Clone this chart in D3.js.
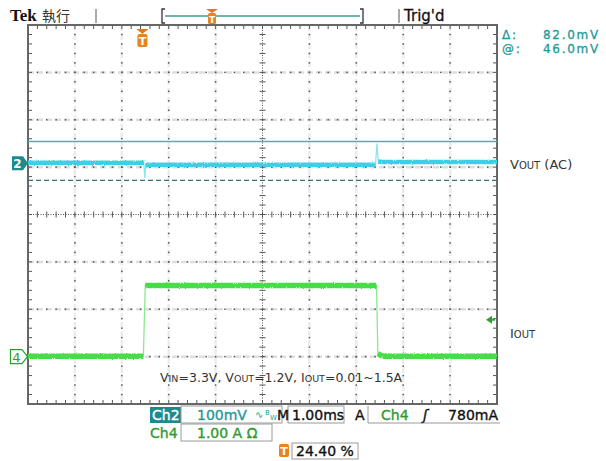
<!DOCTYPE html>
<html>
<head>
<meta charset="utf-8">
<script src="https://cdn.jsdelivr.net/npm/d3@7"></script>
<style>
  html, body { margin: 0; padding: 0; background: #fff; }
  svg text { font-family: "DejaVu Sans", sans-serif; }
</style>
</head>
<body>
<div id="scope"></div>
<script>
// time axis: ms relative to trigger, screen spans 10 div at 1.00ms/div
var timeSpan = [-2.44, 7.56];
var divsX = d3.range(0, 11);   // vertical graticule lines
var divsY = d3.range(-4, 5);   // horizontal graticule lines

// Ch2: Vout (AC), mV relative to ch2 ground marker
var ch2Time = [-2.44, 0.03, 0.05, 0.07, 0.12, 4.97, 5.00, 5.03, 5.10, 7.56];
var ch2Volt = [1, 1, -31, -4, -3, -3, 42, 4, 3, 3];
var ch2Offset = 1.08;          // divisions above screen centre
var ch2Scale = 100;            // mV / div

// Ch4: Iout, amps
var ch4Time = [-2.44, 0.02, 0.06, 4.99, 5.02, 5.12, 7.56];
var ch4Amp = [0.01, 0.01, 1.50, 1.50, 0.06, 0.01, 0.01];
var ch4Offset = -3.0;
var ch4Scale = 1.0;            // A / div

// cursors (Ch2) and trigger
var cursorAt = 46.0, cursorDelta = 82.0;
var trigLevel = 0.78;          // A
var trigPct = 24.40;

var W = 606, H = 461;
var gLeft = 28, gRight = 497, gTop = 25, gBottom = 404;

var svg = d3.select('#scope').append('svg')
    .attr('width', W).attr('height', H);

var x = d3.scaleLinear().domain(timeSpan).range([gLeft, gRight]);
var xDiv = d3.scaleLinear().domain([0, 10]).range([gLeft, gRight]);
var yDiv = d3.scaleLinear().domain([-4, 4]).range([gBottom, gTop]);
var y2 = function(mv) { return yDiv(mv / ch2Scale + ch2Offset); };
var y4 = function(a) { return yDiv(a / ch4Scale + ch4Offset); };

// noisy look for the traces (styling only)
var defs = svg.append('defs');
var filt = defs.append('filter').attr('id', 'noise')
    .attr('x', '-2%').attr('y', '-50%').attr('width', '104%').attr('height', '200%');
filt.append('feTurbulence').attr('type', 'fractalNoise')
    .attr('baseFrequency', '0.9 0.6').attr('numOctaves', 2).attr('seed', 3).attr('result', 't');
filt.append('feDisplacementMap').attr('in', 'SourceGraphic').attr('in2', 't')
    .attr('scale', 2.5).attr('xChannelSelector', 'R').attr('yChannelSelector', 'G');

// ---- graticule ----
var grid = svg.append('g');
var sub = 5;

// light grey bands under the grid lines
grid.selectAll('.hband').data(divsY.filter(function(d) { return d != 0 && Math.abs(d) != 4; }))
    .enter().append('line')
    .attr('x1', gLeft).attr('x2', gRight)
    .attr('y1', function(d) { return yDiv(d); }).attr('y2', function(d) { return yDiv(d); })
    .style('stroke', '#dedede').style('stroke-width', 2.5)
    .style('stroke-dasharray', '6,3');
grid.selectAll('.vband').data(divsX.filter(function(d) { return d != 5 && d != 0 && d != 10; }))
    .enter().append('line')
    .attr('y1', gTop).attr('y2', gBottom)
    .attr('x1', function(d) { return xDiv(d); }).attr('x2', function(d) { return xDiv(d); })
    .style('stroke', '#ececec').style('stroke-width', 2.5)
    .style('stroke-dasharray', '6,3');

// dots along grid lines
var dots = [];
divsY.forEach(function(gy) {
    if (gy == 0 || Math.abs(gy) == 4) return;
    d3.range(0, 10 * sub + 1).forEach(function(k) {
        dots.push([xDiv(k / sub), yDiv(gy)]);
    });
});
divsX.forEach(function(gx) {
    if (gx == 5 || gx == 0 || gx == 10) return;
    d3.range(0, 8 * sub + 1).forEach(function(k) {
        dots.push([xDiv(gx), yDiv(-4 + k / sub)]);
    });
});
grid.selectAll('.dot').data(dots).enter().append('rect')
    .attr('x', function(d) { return d[0] - 0.75; })
    .attr('y', function(d) { return d[1] - 0.75; })
    .attr('width', 1.5).attr('height', 1.5)
    .style('fill', '#555');

// centre cross
grid.append('line').attr('x1', gLeft).attr('x2', gRight)
    .attr('y1', yDiv(0)).attr('y2', yDiv(0))
    .style('stroke', '#555').style('stroke-width', 1).style('stroke-dasharray', '1,1.5');
grid.append('line').attr('y1', gTop).attr('y2', gBottom)
    .attr('x1', xDiv(5)).attr('x2', xDiv(5))
    .style('stroke', '#555').style('stroke-width', 1).style('stroke-dasharray', '1,1.5');
var ticks = [];
d3.range(0, 10 * sub + 1).forEach(function(k) {
    var px = xDiv(k / sub);
    ticks.push([px, yDiv(0) - 3, px, yDiv(0) + 3]);
    ticks.push([px, gTop, px, gTop + 4]);
    ticks.push([px, gBottom, px, gBottom - 4]);
});
d3.range(0, 8 * sub + 1).forEach(function(k) {
    var py = yDiv(-4 + k / sub);
    ticks.push([xDiv(5) - 3, py, xDiv(5) + 3, py]);
    ticks.push([gLeft, py, gLeft + 4, py]);
    ticks.push([gRight, py, gRight - 4, py]);
});
grid.selectAll('.tick').data(ticks).enter().append('line')
    .attr('x1', function(d) { return d[0]; }).attr('y1', function(d) { return d[1]; })
    .attr('x2', function(d) { return d[2]; }).attr('y2', function(d) { return d[3]; })
    .style('stroke', '#555').style('stroke-width', 1);

// frame
grid.append('rect').attr('x', gLeft).attr('y', gTop)
    .attr('width', gRight - gLeft).attr('height', gBottom - gTop)
    .style('fill', 'none').style('stroke', '#666').style('stroke-width', 2);

// ---- cursors ----
svg.append('line').attr('x1', gLeft).attr('x2', gRight)
    .attr('y1', y2(cursorAt)).attr('y2', y2(cursorAt))
    .style('stroke', '#5fa8ae').style('stroke-width', 1.5);
svg.append('line').attr('x1', gLeft).attr('x2', gRight)
    .attr('y1', y2(cursorAt - cursorDelta)).attr('y2', y2(cursorAt - cursorDelta))
    .style('stroke', '#3c6f78').style('stroke-width', 1.3).style('stroke-dasharray', '5,3');

// ---- traces ----
// thin line through every point, thick noisy band only on the flat parts
function drawTrace(times, vals, yf, flatTol, thin, thick, width) {
    var pts = times.map(function(t, i) { return [x(t), yf(vals[i])]; });
    var ln = d3.line();
    svg.append('path').attr('d', ln(pts))
        .style('fill', 'none').style('stroke', thin).style('stroke-width', 1.3);
    var flat = d3.pairs(pts).filter(function(p, i) {
        return Math.abs(vals[i + 1] - vals[i]) <= flatTol;
    });
    svg.append('g').attr('filter', 'url(#noise)').selectAll('path').data(flat)
        .enter().append('path')
        .attr('d', function(p) { return ln(p); })
        .style('fill', 'none').style('stroke', thick).style('stroke-width', width)
        .style('stroke-linecap', 'butt');
}
drawTrace(ch2Time, ch2Volt, y2, 3, '#8fe2f0', '#3ccfe8', 4.5);
drawTrace(ch4Time, ch4Amp, y4, 0.06, '#8fe88f', '#46dd46', 5.5);

// ---- channel markers ----
var m2 = y2(0);
svg.append('path')
    .attr('d', 'M12,' + (m2 - 7) + 'H23L28,' + m2 + 'L23,' + (m2 + 7) + 'H12Z')
    .style('fill', '#1d8a8c');
svg.append('text').attr('x', 17.5).attr('y', m2 + 4.5).attr('text-anchor', 'middle')
    .style('font-size', '12px').style('font-weight', 'bold').style('fill', '#fff').text('2');

var m4 = y4(0);
svg.append('path')
    .attr('d', 'M10.5,' + (m4 - 7) + 'H22L27.5,' + m4 + 'L22,' + (m4 + 7) + 'H10.5Z')
    .style('fill', '#fff').style('stroke', '#2e9e2e').style('stroke-width', 1.2);
svg.append('text').attr('x', 16.5).attr('y', m4 + 5).attr('text-anchor', 'middle')
    .style('font-size', '13px').style('fill', '#2e9e2e').text('4');

// trigger level arrow (ch4)
var ty = y4(trigLevel);
svg.append('path').attr('d', 'M486,' + ty + 'L492,' + (ty - 4) + 'V' + (ty + 4) + 'Z')
    .style('fill', '#2e9e2e');
svg.append('line').attr('x1', 490).attr('x2', 495).attr('y1', ty).attr('y2', ty)
    .style('stroke', '#2e9e2e').style('stroke-width', 2);

// trigger position marker
function tMarker(g, cx, y0, h) {
    g.append('path').attr('d', 'M' + (cx - 6) + ',' + y0 + 'H' + (cx + 6) + 'L' + cx + ',' + (y0 + 5) + 'Z')
        .style('fill', '#e07820');
    g.append('rect').attr('x', cx - 5).attr('y', y0 + 5).attr('width', 10).attr('height', h)
        .attr('rx', 2).style('fill', '#e8841e');
    g.append('text').attr('x', cx).attr('y', y0 + 5 + h - 2.5).attr('text-anchor', 'middle')
        .style('font-size', (h - 2) + 'px').style('font-weight', 'bold').style('fill', '#fff').text('T');
}
tMarker(svg, x(0), 29, 13);

// ---- top bar ----
svg.append('text').attr('x', 10).attr('y', 21)
    .style('font-family', '"Liberation Serif", serif').style('font-weight', 'bold')
    .style('font-size', '17px').style('fill', '#111').text('Tek');
svg.append('text').attr('x', 42).attr('y', 21)
    .style('font-family', '"Noto Sans CJK TC", sans-serif')
    .style('font-size', '14px').style('fill', '#333').text('執行');
svg.append('line').attr('x1', 96).attr('x2', 96).attr('y1', 9).attr('y2', 23)
    .style('stroke', '#555').style('stroke-width', 1);
// record view bracket
svg.append('path').attr('d', 'M165,9H162V23H165').style('fill', 'none').style('stroke', '#333').style('stroke-width', 1.3);
svg.append('path').attr('d', 'M360,9H363V23H360').style('fill', 'none').style('stroke', '#333').style('stroke-width', 1.3);
svg.append('line').attr('x1', 165).attr('x2', 360).attr('y1', 16).attr('y2', 16)
    .style('stroke', '#6fb3ae').style('stroke-width', 2);
svg.append('path').attr('d', 'M206,9H218L212,13Z').style('fill', '#e07820');
svg.append('rect').attr('x', 208).attr('y', 13).attr('width', 8).attr('height', 11).attr('rx', 1.5)
    .style('fill', '#e8841e');
svg.append('text').attr('x', 212).attr('y', 22.5).attr('text-anchor', 'middle')
    .style('font-size', '9px').style('font-weight', 'bold').style('fill', '#fff').text('T');
svg.append('line').attr('x1', 399).attr('x2', 399).attr('y1', 9).attr('y2', 23)
    .style('stroke', '#555').style('stroke-width', 1);
svg.append('text').attr('x', 404).attr('y', 21)
    .style('font-size', '15px').style('fill', '#111').style('stroke', '#111').style('stroke-width', 0.3)
    .text("Trig'd");

// ---- cursor readout ----
var teal = '#1f9a98';
var ro = svg.append('g').style('font-family', '"DejaVu Sans Mono", monospace')
    .style('font-size', '12px').style('letter-spacing', '1.7px')
    .style('fill', teal).style('stroke', teal).style('stroke-width', 0.3);
[['Δ:', cursorDelta, 39], ['@:', cursorAt, 53]].forEach(function(r) {
    var t = ro.append('text').attr('x', 502).attr('y', r[2]);
    t.append('tspan').text(r[0]);
    t.append('tspan').attr('x', 543).text(r[1].toFixed(1) + 'mV');
});

// ---- annotations ----
var ann = svg.append('g').style('font-family', '"Liberation Sans", Arial, sans-serif').style('fill', '#333');
var vl = ann.append('text').attr('x', 510).attr('y', 169).style('font-size', '13px');
vl.append('tspan').text('V');
vl.append('tspan').style('font-size', '10px').text('OUT');
vl.append('tspan').text(' (AC)');
var il = ann.append('text').attr('x', 510).attr('y', 338).style('font-size', '13px');
il.append('tspan').text('I');
il.append('tspan').style('font-size', '10px').text('OUT');

var cond = ann.append('text').attr('x', 160).attr('y', 382).style('font-size', '12.5px');
[['V', 'IN', '=3.3V, '], ['V', 'OUT', '=1.2V, '], ['I', 'OUT', '=0.01~1.5A']].forEach(function(p) {
    cond.append('tspan').text(p[0]);
    cond.append('tspan').style('font-size', '9.5px').text(p[1]);
    cond.append('tspan').text(p[2]);
});

// ---- status bar ----
var green = '#2f9a2f';
var sb = svg.append('g').style('font-size', '14px').style('stroke-width', 0.35);
sb.append('rect').attr('x', 150).attr('y', 407).attr('width', 31).attr('height', 16).style('fill', '#1d8a8c');
sb.append('text').attr('x', 152).attr('y', 420).style('fill', '#fff').style('stroke', '#fff').text('Ch2');
var boxes = [[181, 406, 101, 17], [288, 406, 56, 17], [181, 424, 91, 17], [292, 443, 66, 16]];
sb.selectAll('.box').data(boxes).enter().append('rect')
    .attr('x', function(d) { return d[0]; }).attr('y', function(d) { return d[1]; })
    .attr('width', function(d) { return d[2]; }).attr('height', function(d) { return d[3]; })
    .style('fill', 'none').style('stroke', '#9a9a9a').style('stroke-width', 1);
sb.append('path').attr('d', 'M368,406V423H500').style('fill', 'none').style('stroke', '#9a9a9a').style('stroke-width', 1);
function st(xp, yp, txt, col) {
    return sb.append('text').attr('x', xp).attr('y', yp).style('fill', col).style('stroke', col).text(txt);
}
st(197, 420, ch2Scale + 'mV', teal);
st(255, 418, '∿', teal).style('font-size', '10px').style('stroke', 'none');
st(265, 415, 'B', teal).style('font-size', '7px').style('stroke', 'none');
st(270, 420, 'W', teal).style('font-size', '7px').style('stroke', 'none');
st(277, 420, 'M', '#111');
st(292, 420, '1.00ms', '#111');
st(355, 420, 'A', '#111');
st(381, 420, 'Ch4', green);
st(423, 420, 'ʃ', '#111').style('font-style', 'italic');
st(498, 420, (trigLevel * 1000).toFixed(0) + 'mA', '#111').attr('text-anchor', 'end');
st(150, 438, 'Ch4', green);
st(197, 438, ch4Scale.toFixed(2) + ' A Ω', green);
sb.append('rect').attr('x', 279).attr('y', 444).attr('width', 10).attr('height', 13).attr('rx', 2).style('fill', '#e8841e');
sb.append('text').attr('x', 284).attr('y', 455).attr('text-anchor', 'middle').style('font-size', '11px')
    .style('font-weight', 'bold').style('fill', '#fff').text('T');
st(296, 456, trigPct.toFixed(2) + ' %', '#111');
</script>
</body>
</html>
